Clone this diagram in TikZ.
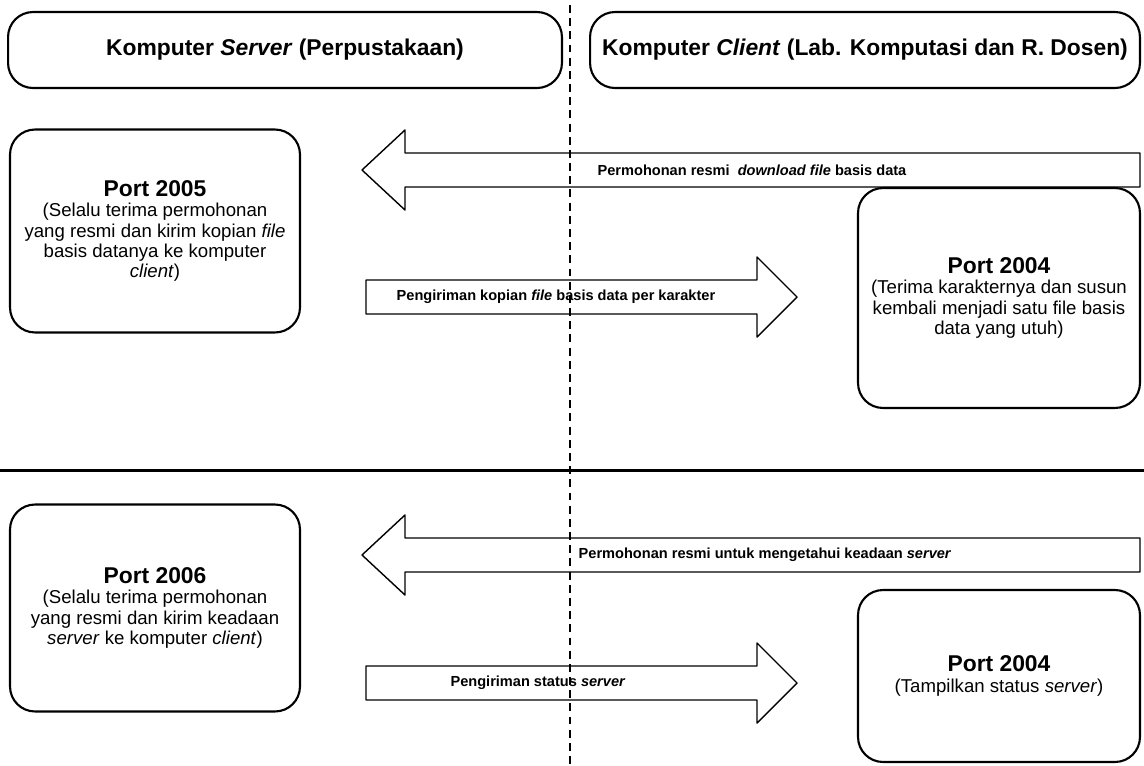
\documentclass[tikz,border=0pt]{standalone}
\usepackage{fontspec}
\setmainfont{Liberation Sans}
\usetikzlibrary{positioning}

\newcommand{\porttitle}[1]{{\fontsize{13}{16}\selectfont\bfseries Port #1}}

\begin{document}
\begin{tikzpicture}[x=0.02cm, y=-0.02cm, line join=round,
	headbox/.style={draw, very thick, rounded corners=0.5cm, minimum height=1.52cm,
		font=\fontsize{13}{15}\bfseries},
	portbox/.style={draw, very thick, rounded corners=0.5cm, align=center,
		font=\fontsize{10.6}{11.6}\selectfont},
	arrowtext/.style={font=\fontsize{8.3}{9}\bfseries, inner sep=0pt},
	blockarrow/.style={draw, thick}]

	\useasboundingbox (0,0) rectangle (1144,765);

% The two computers
	\node[headbox, minimum width=11.08cm] (srvhead) at (285,50)
		{Komputer \textit{Server} (Perpustakaan)};
	\node[headbox, minimum width=11cm] (clihead) at (865,50)
		{Komputer \textit{Client} (Lab. Komputasi dan R. Dosen)};

% Upper part: download of the data base file
	\node[portbox, minimum width=5.8cm, minimum height=4.06cm] (port2005) at (155,231)
		{\porttitle{2005}\\
		(Selalu terima permohonan\\
		yang resmi dan kirim kopian \textit{file}\\
		basis datanya ke komputer\\
		\textit{client})};
	\node[portbox, minimum width=5.64cm, minimum height=4.4cm] (port2004a) at (999,298)
		{\porttitle{2004}\\
		(Terima karakternya dan susun\\
		kembali menjadi satu file basis\\
		data yang utuh)};

% Lower part: state of the server
	\node[portbox, minimum width=5.8cm, minimum height=4.14cm] (port2006) at (155,608)
		{\porttitle{2006}\\
		(Selalu terima permohonan\\
		yang resmi dan kirim keadaan\\
		\textit{server} ke komputer \textit{client})};
	\node[portbox, minimum width=5.64cm, minimum height=3.44cm] (port2004b) at (999,676)
		{\porttitle{2004}\\
		(Tampilkan status \textit{server})};

	% Requests, client to server
	\foreach \y/\name in {170/reqdl, 555/reqstat}{
		\coordinate (\name) at (362,\y);
		\draw[blockarrow]
		      (\name) --
		    ++(43,-40) --
		    ++(0,23) --
		    ++(735,0) --
		    ++(0,34) --
		    ++(-735,0) --
		    ++(0,23) --
		    cycle;
	}

	% Replies, server to client
	\foreach \y/\name in {297/senddb, 683/sendstat}{
		\coordinate (\name) at (366,\y);
		\draw[blockarrow]
		      (\name) --
		    ++(0,-17) --
		    ++(391,0) --
		    ++(0,-23) --
		    ++(40,40) --
		    ++(-40,40) --
		    ++(0,-23) --
		    ++(-391,0) --
		    cycle;
	}

	\node[arrowtext] (reqdltext) at (752,170)
		{Permohonan resmi \ \textit{download file} basis data};
	\node[arrowtext] (senddbtext) at (556,297)
		{Pengiriman kopian \textit{file} basis data per karakter};
	\node[arrowtext] (reqstattext) at (765,555)
		{Permohonan resmi untuk mengetahui keadaan \textit{server}};
	\node[arrowtext] (sendstattext) at (538,683)
		{Pengiriman status \textit{server}};

	% Separators
	\draw[line width=1.7pt] (0,470) -- (1144,470);
	\draw[semithick, dash pattern=on 4.5pt off 3pt] (570,5) -- (570,765);
\end{tikzpicture}
\end{document}
